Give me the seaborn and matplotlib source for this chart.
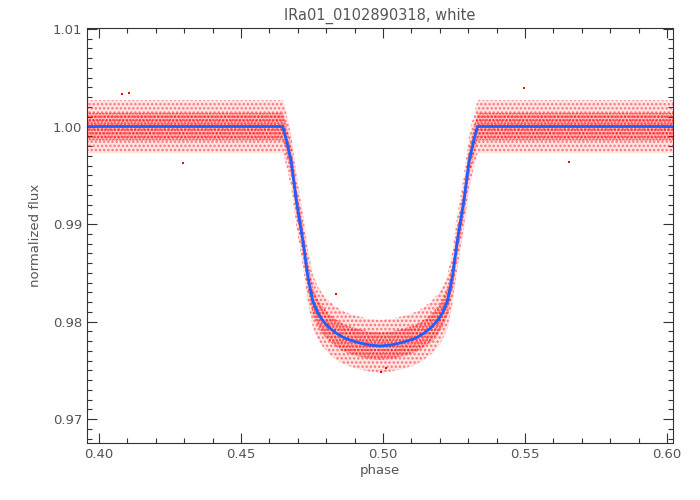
import numpy as np
import pandas as pd
import matplotlib
matplotlib.use("Agg")
import matplotlib.pyplot as plt
from matplotlib.ticker import MultipleLocator, FormatStrFormatter
import seaborn as sns

# transit model
model_phase = [0.3958, 0.4647, 0.4660, 0.4677, 0.4695, 0.4718, 0.4736, 0.4753,
               0.4770, 0.4788, 0.4810, 0.4836, 0.4865, 0.4906, 0.4950, 0.4990,
               0.5030, 0.5074, 0.5115, 0.5144, 0.5170, 0.5192, 0.5210, 0.5227,
               0.5244, 0.5262, 0.5285, 0.5303, 0.5320, 0.5333, 0.6021]
model_flux = [1.0000, 1.0000, 0.9986, 0.9964, 0.9924, 0.9883, 0.9845, 0.9821,
              0.9809, 0.9801, 0.9794, 0.9788, 0.9783, 0.9779, 0.9776, 0.9775,
              0.9776, 0.9779, 0.9783, 0.9788, 0.9794, 0.9801, 0.9809, 0.9821,
              0.9845, 0.9883, 0.9924, 0.9964, 0.9986, 1.0000, 1.0000]

# spread of the measured points around the model (dense core / outer cloud)
core_width = 0.0014
outer_width = 0.0027

# a few isolated points far from the cloud
outlier_phase = [0.4080, 0.4107, 0.5497, 0.4296, 0.5656, 0.4994, 0.5011, 0.4836]
outlier_flux = [1.0033, 1.0034, 1.0039, 0.9963, 0.9964, 0.9748, 0.9752, 0.9828]

df = pd.DataFrame({"phase": model_phase, "flux": model_flux})
out = pd.DataFrame({"phase": outlier_phase, "flux": outlier_flux})

sns.set_style("ticks")
plt.rcParams["font.family"] = ["DejaVu Sans"]
plt.rcParams["hatch.linewidth"] = 1.2

fig = plt.figure(figsize=(7, 5), dpi=100)
ax = fig.add_axes([0.1243, 0.114, 0.8371, 0.830])

mf = np.array(model_flux)
ax.fill_between(model_phase, mf - outer_width, mf + outer_width,
                facecolor="#ff0000", alpha=0.10, linewidth=0)
ax.fill_between(model_phase, mf - outer_width, mf + outer_width,
                facecolor="none", edgecolor="#ff2020", hatch="....",
                linewidth=0, alpha=0.55)
ax.fill_between(model_phase, mf - core_width, mf + core_width,
                facecolor="#ff0000", alpha=0.15, linewidth=0)
ax.fill_between(model_phase, mf - core_width, mf + core_width,
                facecolor="none", edgecolor="#ff0000", hatch=".....",
                linewidth=0, alpha=0.7)

sns.scatterplot(data=out, x="phase", y="flux", ax=ax, color="red",
                s=4, marker="s", linewidth=0)
sns.lineplot(data=df, x="phase", y="flux", ax=ax, color="#1f5fff",
             linewidth=2, sort=False)

ax.set_xlim(0.3958, 0.6021)
ax.set_ylim(0.96755, 1.0101)

ax.xaxis.set_major_locator(MultipleLocator(0.05))
ax.xaxis.set_minor_locator(MultipleLocator(0.01))
ax.yaxis.set_major_locator(MultipleLocator(0.01))
ax.yaxis.set_minor_locator(MultipleLocator(0.001))
ax.xaxis.set_major_formatter(FormatStrFormatter("%.2f"))
ax.yaxis.set_major_formatter(FormatStrFormatter("%.2f"))

grey = "#555555"
ax.tick_params(which="both", direction="in", top=True, right=True,
               colors="#333333", labelcolor=grey, labelsize=9.5)
ax.tick_params(which="major", length=7, width=0.8)
ax.tick_params(which="minor", length=3.5, width=0.8)
for s in ax.spines.values():
    s.set_visible(True)
    s.set_color("#333333")
    s.set_linewidth(0.8)

ax.set_title("IRa01_0102890318, white", color=grey, fontsize=10.5, pad=6)
ax.set_xlabel("phase", color=grey, fontsize=9.5, labelpad=2)
ax.set_ylabel("normalized flux", color=grey, fontsize=9.5, labelpad=8)

fig.savefig("out.png", dpi=100)
